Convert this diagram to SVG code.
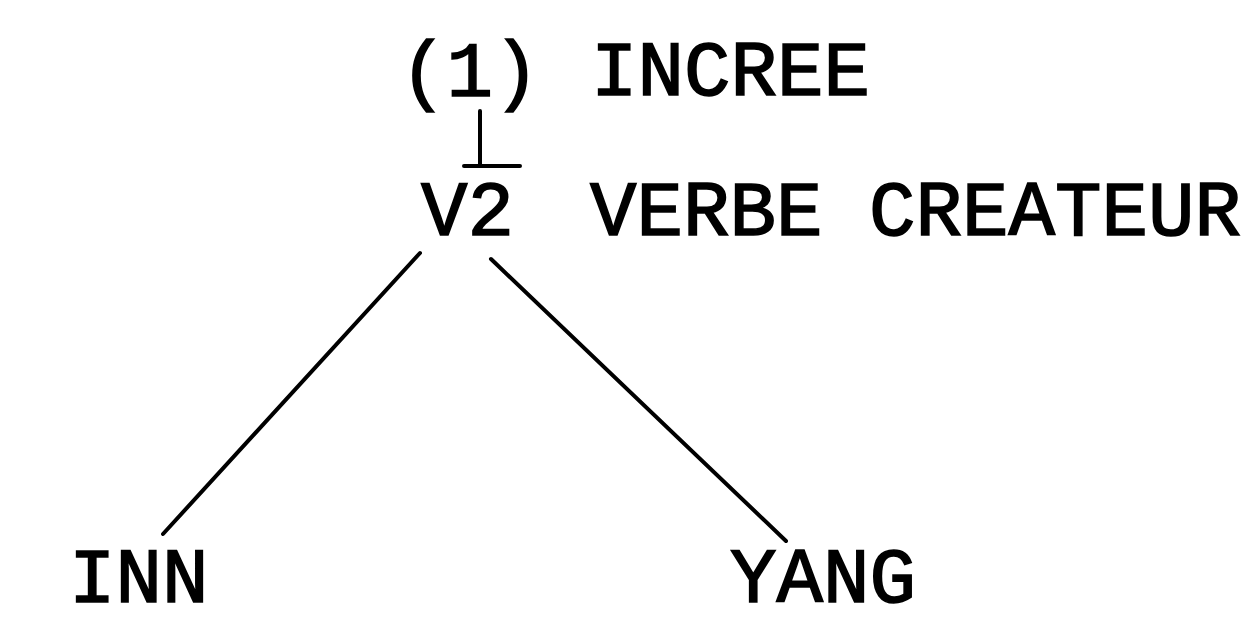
<svg xmlns="http://www.w3.org/2000/svg" width="1245" height="625" viewBox="0 0 1245 625">
<style>
text{font-family:"Liberation Mono","Courier New",monospace;font-size:77.5px;font-weight:normal;fill:#000;stroke:#000;stroke-width:1.6}
.c{stroke:#000;stroke-width:4;fill:none;stroke-linecap:round}
</style>
<rect width="1245" height="625" fill="#fff"/>
<g id="n1"><text x="400" y="96">(1)</text><text x="591" y="95">INCREE</text></g>
<g id="v2"><text x="421" y="235">V2</text><text x="590" y="235">VERBE CREATEUR</text></g>
<g id="inn"><text x="69" y="602">INN</text></g>
<g id="yang"><text x="730" y="602">YANG</text></g>
<g id="connectors">
<path class="c" d="M480 111V166M464 166H520"/>
<path class="c" d="M420 253L163 534"/>
<path class="c" d="M491 259L786 541"/>
</g>
</svg>
